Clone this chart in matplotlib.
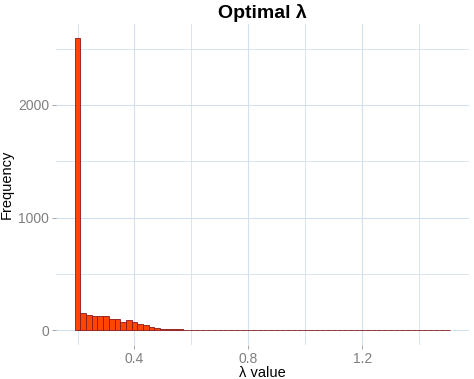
import numpy as np
import matplotlib.pyplot as plt
from matplotlib.ticker import MultipleLocator

plt.rcParams['font.family'] = ['Liberation Sans', 'DejaVu Sans']

# histogram of optimal lambda, bins of width 0.02 starting at 0.19
bin_start = 0.19
bin_width = 0.02
counts = [2590, 155, 133, 127, 128, 125, 100, 98, 78, 91,
          70, 57, 47, 30, 23, 15, 9, 8, 8, 6,
          4, 3, 3, 2, 3, 1, 3, 1, 1, 1,
          0, 1, 0, 0, 1, 0, 0, 1, 0, 0,
          0, 0, 1, 0, 0, 0, 0, 0, 0, 0,
          0, 0, 0, 0, 0, 0, 0, 0, 0, 0,
          0, 0, 0, 0, 0, 1]

edges = bin_start + bin_width * np.arange(len(counts) + 1)

fig = plt.figure(figsize=(4.74, 3.79), dpi=100)
ax = fig.add_axes([0.118, 0.09, 0.872, 0.847])

ax.bar(edges[:-1], counts, width=bin_width, align='edge',
       color='#ff4500', edgecolor='#8b1a1a', linewidth=0.6, zorder=3)

span = edges[-1] - edges[0]
ax.set_xlim(edges[0] - 0.05 * span, edges[-1] + 0.05 * span)
ymax = max(counts)
ax.set_ylim(-0.05 * ymax, 1.05 * ymax)

ax.xaxis.set_major_locator(MultipleLocator(0.4))
ax.xaxis.set_minor_locator(MultipleLocator(0.2))
ax.yaxis.set_major_locator(MultipleLocator(1000))
ax.yaxis.set_minor_locator(MultipleLocator(500))
ax.set_xticks([0.4, 0.8, 1.2])
ax.set_xticklabels(['0.4', '0.8', '1.2'])

grid_col = '#d3e0ee'
ax.grid(which='major', color=grid_col, linewidth=0.8, zorder=0)
ax.grid(which='minor', color=grid_col, linewidth=0.6, zorder=0)
for s in ax.spines.values():
    s.set_visible(False)

ax.tick_params(which='major', length=3, width=0.6, color='#999999',
               labelcolor='#7f7f7f', labelsize=10, pad=2)
ax.tick_params(which='minor', length=0)

ax.set_xlabel('λ value', fontsize=10.5, labelpad=0)
ax.set_ylabel('Frequency', fontsize=10.5, labelpad=3)
ax.set_title('Optimal λ', fontsize=14, fontweight='bold', pad=4)

fig.savefig('out.png', dpi=100)
